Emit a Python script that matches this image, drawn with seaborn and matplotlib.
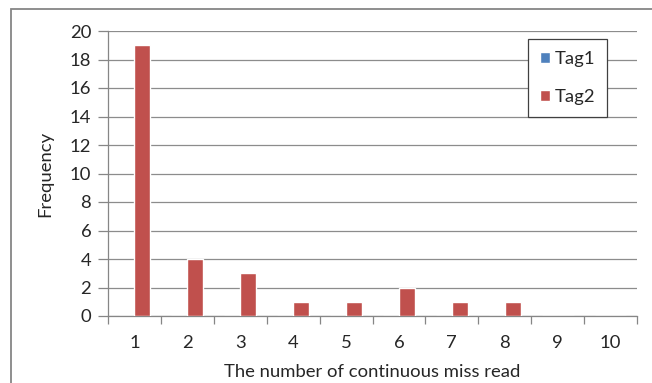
import matplotlib
matplotlib.use("Agg")
import matplotlib.pyplot as plt
import seaborn as sns
import pandas as pd
from matplotlib.patches import Rectangle

# Frequency of consecutive missed reads per tag
miss_counts = [1, 2, 3, 4, 5, 6, 7, 8, 9, 10]
tag1_freq = [0, 0, 0, 0, 0, 0, 0, 0, 0, 0]
tag2_freq = [19, 4, 3, 1, 1, 2, 1, 1, 0, 0]
series_names = ["Tag1", "Tag2"]
series_colors = ["#4F81BD", "#C0504D"]

df = pd.DataFrame({
    "count": [str(c) for c in miss_counts] * 2,
    "freq": tag1_freq + tag2_freq,
    "tag": [series_names[0]] * len(miss_counts) + [series_names[1]] * len(miss_counts),
})

sns.set_theme(style="white")
plt.rcParams["font.family"] = ["Lato", "DejaVu Sans"]

W, H = 652, 383
FS = 13.3
fig = plt.figure(figsize=(W / 100, H / 100), dpi=100)
ax = fig.add_axes([108 / W, (H - 316) / H, (637 - 108) / W, (316 - 31) / H])

# outer chart frame
fig.patches.append(Rectangle((11 / W, -0.05), 1.2, (H - 9) / H + 0.05,
                             transform=fig.transFigure, fill=False,
                             edgecolor="#868686", linewidth=1.3, zorder=0))

sns.barplot(data=df, x="count", y="freq", hue="tag", hue_order=series_names,
            palette=series_colors, width=0.6, dodge=True, saturation=1,
            errorbar=None, ax=ax, zorder=3)

ax.set_ylim(0, 20)
ax.set_xlim(-0.5, len(miss_counts) - 0.5)
ax.set_yticks(range(0, 21, 2))
ax.yaxis.grid(True, color="#8c8c8c", linewidth=0.9)
ax.set_axisbelow(True)

for s in ["top", "right"]:
    ax.spines[s].set_visible(False)
for s in ["left", "bottom"]:
    ax.spines[s].set_color("#868686")
    ax.spines[s].set_linewidth(0.9)

ax.tick_params(axis="y", which="major", direction="out", length=7, width=0.9,
               color="#868686", left=True, labelsize=FS, labelcolor="#262626", pad=5)
ax.tick_params(axis="x", which="major", length=0, labelsize=FS,
               labelcolor="#262626", pad=14)
ax.set_xticks([i - 0.5 for i in range(len(miss_counts) + 1)], minor=True)
ax.tick_params(axis="x", which="minor", direction="out", length=6, width=0.9,
               color="#868686", bottom=True)

ax.set_xlabel("The number of continuous miss read", fontsize=FS,
              color="#262626", labelpad=9)
ax.set_ylabel("Frequency", fontsize=FS, color="#262626", labelpad=12)

handles, labels = ax.get_legend_handles_labels()
leg = ax.legend(handles, labels, loc="upper left",
                bbox_to_anchor=((528 - 108) / (637 - 108), (316 - 39) / (316 - 31)),
                frameon=True, fancybox=False, framealpha=1,
                edgecolor="#404040", fontsize=FS, handlelength=0.55,
                handleheight=0.55, handletextpad=0.25, labelspacing=1.2,
                borderpad=0.65, borderaxespad=0)
leg.get_frame().set_linewidth(0.9)
for t in leg.get_texts():
    t.set_color("#262626")

fig.savefig("out.png", dpi=100)
